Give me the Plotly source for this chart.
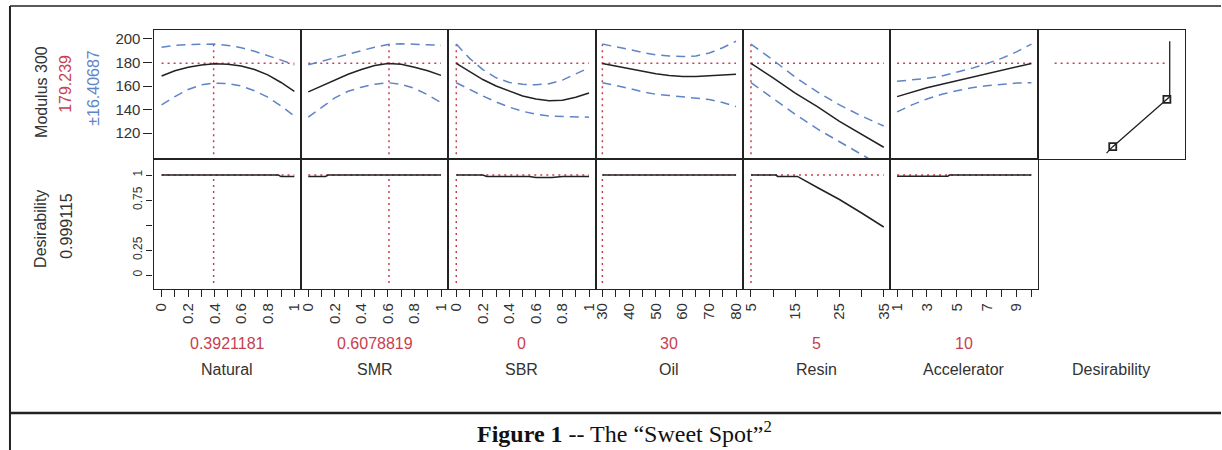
import plotly.graph_objects as go

W, H = 1222, 450

# ---------------- data ----------------
factor_names = ["Natural", "SMR", "SBR", "Oil", "Resin", "Accelerator", "Desirability"]
current_values = [0.3921181, 0.6078819, 0, 30, 5, 10]
current_labels = ["0.3921181", "0.6078819", "0", "30", "5", "10"]
predicted = 179.239
predicted_label = "179.239"
ci_half = 16.40687
ci_label = "±16.40687"
overall_desirability = 0.999115
overall_desirability_label = "0.999115"

natural_x = [0, 0.1, 0.2, 0.3, 0.4, 0.5, 0.6, 0.7, 0.8, 0.9, 1.0]
natural_mean = [168.5, 173, 176, 177.8, 178.9, 178.5, 177, 174, 169.5, 163, 155.5]
natural_upper = [193, 194.5, 195.3, 195.6, 195.6, 194.5, 192.5, 189.5, 186, 182, 178]
natural_lower = [144, 151, 157, 161, 162.5, 162, 160, 156, 150.5, 143, 134.5]

smr_x = [0, 0.1, 0.2, 0.3, 0.4, 0.5, 0.6, 0.7, 0.8, 0.9, 1.0]
smr_mean = [155, 160, 164.5, 170, 174, 177.5, 179.2, 178.5, 176, 173, 169]
smr_upper = [178, 181, 184, 187.5, 190.5, 193, 195.3, 195.8, 195.5, 195, 194.5]
smr_lower = [133.5, 142, 150, 155.5, 159, 161.5, 162.8, 161.5, 158, 152.5, 146]

sbr_x = [0, 0.1, 0.2, 0.3, 0.4, 0.5, 0.6, 0.7, 0.8, 0.9, 1.0]
sbr_mean = [179.2, 172, 165.5, 160, 155.5, 151.5, 149, 147.5, 148, 150.5, 154]
sbr_upper = [195.6, 183.5, 174, 167, 163, 161.5, 161, 162, 165, 170, 175.5]
sbr_lower = [162.8, 157, 151.5, 146.5, 142, 138.5, 136, 134.5, 134, 133.5, 133.5]

oil_x = [30, 35, 40, 45, 50, 55, 60, 65, 70, 75, 80]
oil_mean = [179.2, 177, 175, 172.5, 170.5, 169, 168, 168, 168.5, 169.3, 170]
oil_upper = [195.6, 193.5, 191, 188.5, 186.5, 185.5, 185, 185.5, 188, 192.5, 198]
oil_lower = [162.8, 160.5, 158, 155, 153, 152, 151, 150, 148.5, 146, 142.5]

resin_x = [5, 10, 15, 20, 25, 30, 35]
resin_mean = [179.2, 167, 154, 142.5, 130, 119, 108]
resin_upper = [195.6, 182, 167.5, 155, 144, 134.5, 126]
resin_lower = [162.8, 149.5, 136, 123.5, 112.5, 102, 91]

accel_x = [1, 2, 3, 4, 5, 6, 7, 8, 9, 10]
accel_mean = [151, 155, 158.5, 161.5, 164.5, 167.5, 170, 173, 176, 179.2]
accel_upper = [164, 165, 166.5, 168.5, 171.5, 175, 179, 183.5, 189, 195.6]
accel_lower = [138, 144, 149, 153, 156, 158.5, 160.3, 161.5, 162.5, 162.8]

# desirability traces (lower row)
natural_des_x = [0, 0.88, 0.9, 1.0]
natural_des = [0.999, 0.999, 0.984, 0.984]
smr_des_x = [0, 0.13, 0.15, 1.0]
smr_des = [0.985, 0.985, 0.999, 0.999]
sbr_des_x = [0, 0.2, 0.23, 0.55, 0.6, 0.72, 0.8, 1.0]
sbr_des = [0.999, 0.999, 0.986, 0.986, 0.975, 0.975, 0.986, 0.986]
oil_des_x = [30, 80]
oil_des = [0.999, 0.999]
resin_des_x = [5, 10.7, 11, 15.5, 20, 25, 30, 35]
resin_des = [0.999, 0.999, 0.986, 0.986, 0.875, 0.755, 0.62, 0.48]
accel_des_x = [1, 4.4, 4.5, 10]
accel_des = [0.987, 0.987, 0.999, 0.999]

# desirability function panel
desfun_d = [0.46, 0.515, 0.995, 1.02, 1.02]
desfun_y = [103, 108.5, 148.7, 151, 198]
desfun_marker_d = [0.515, 0.995]
desfun_marker_y = [108.5, 148.7]

# ticks: labelled ticks plus unlabelled minor-tick step
label_vals = [
    [0, 0.2, 0.4, 0.6, 0.8, 1.0],
    [0, 0.2, 0.4, 0.6, 0.8, 1.0],
    [0, 0.2, 0.4, 0.6, 0.8, 1.0],
    [30, 40, 50, 60, 70, 80],
    [5, 15, 25, 35],
    [1, 3, 5, 7, 9],
    [0, 0.25, 0.5, 0.75, 1],
]
label_text = [
    ["0", "0.2", "0.4", "0.6", "0.8", "1"],
    ["0", "0.2", "0.4", "0.6", "0.8", "1"],
    ["0", "0.2", "0.4", "0.6", "0.8", "1"],
    ["30", "40", "50", "60", "70", "80"],
    ["5", "15", "25", "35"],
    ["1", "3", "5", "7", "9"],
    ["0", "0.25", "0.5", "0.75", "1"],
]
minor_step = [0.1, 0.1, 0.1, 5, 5, 1, 0.25]
minor_start = [0, 0, 0, 30, 5, 1, 0]
x_ranges = [[-0.06, 1.05], [-0.055, 1.055], [-0.06, 1.05], [27.5, 82.6],
            [3.2, 36.5], [0.55, 10.42], [-0.15, 1.156]]
top_y_range = [98, 208]
top_y_ticks = [120, 140, 160, 180, 200]
bot_y_range = [-0.14, 1.16]
bot_y_ticks = [0, 0.25, 0.75, 1]
bot_y_text = ["0", "0.25", "0.75", "1"]
bot_y_minor = 0.25

# ---------------- styling ----------------
BLACK = "#222222"
RED = "#c8404f"
BLUE = "#5f84c8"
FONT = "Liberation Sans, Arial, sans-serif"

panel_left, panel_w = 152, 147.71
row_top, row_mid, row_bot = 29.5, 159, 289


def px(x):
    return x / W


def py(y):
    return 1 - y / H


fig = go.Figure()

curves = [
    (natural_x, natural_mean, natural_upper, natural_lower, natural_des_x, natural_des),
    (smr_x, smr_mean, smr_upper, smr_lower, smr_des_x, smr_des),
    (sbr_x, sbr_mean, sbr_upper, sbr_lower, sbr_des_x, sbr_des),
    (oil_x, oil_mean, oil_upper, oil_lower, oil_des_x, oil_des),
    (resin_x, resin_mean, resin_upper, resin_lower, resin_des_x, resin_des),
    (accel_x, accel_mean, accel_upper, accel_lower, accel_des_x, accel_des),
]

red_line = dict(color=RED, width=1.5, dash="2px,4px")
blue_line = dict(color=BLUE, width=1.5, dash="9px,6px")
blk_line = dict(color=BLACK, width=1.5)


def add(x, y, i, top, line, mode="lines", **kw):
    ax = i + 1 if top else i + 8
    fig.add_trace(go.Scatter(x=x, y=y, mode=mode, line=line, showlegend=False,
                             hoverinfo="skip", xaxis=f"x{ax}", yaxis=f"y{ax}", **kw))


for i, (fx, fm, fu, fl, dx, dy) in enumerate(curves):
    v = current_values[i]
    # top row
    add([fx[0], fx[-1]], [predicted, predicted], i, True, red_line)
    if i != 5:
        add([v, v], [102, predicted + ci_half], i, True, red_line)
        add([v, v], [-0.08, 1.0], i, False, red_line)
    add(fx, fu, i, True, blue_line)
    add(fx, fl, i, True, blue_line)
    add(fx, fm, i, True, blk_line)
    # bottom row
    add([fx[0], fx[-1]], [overall_desirability, overall_desirability], i, False, red_line)
    add(dx, dy, i, False, blk_line)

# desirability function panel
add([0, 1], [predicted, predicted], 6, True, red_line)
add(desfun_d, desfun_y, 6, True, dict(color=BLACK, width=1.3))
add(desfun_marker_d, desfun_marker_y, 6, True, dict(color=BLACK), mode="markers",
    marker=dict(symbol="square-open", size=7, color=BLACK, line=dict(width=1.8)))

# axes
layout = {}
for i in range(7):
    x0 = px(panel_left + i * panel_w)
    x1 = px(panel_left + (i + 1) * panel_w)
    common = dict(showline=True, mirror=True, linecolor=BLACK, linewidth=1.3,
                  showgrid=False, zeroline=False, fixedrange=True)
    # top row
    layout[f"xaxis{i+1}"] = dict(domain=[x0, x1], range=x_ranges[i], anchor=f"y{i+1}",
                                 showticklabels=False, ticks="", **common)
    layout[f"yaxis{i+1}"] = dict(domain=[py(row_mid), py(row_top)], range=top_y_range,
                                 anchor=f"x{i+1}", **common)
    # bottom row
    layout[f"xaxis{i+8}"] = dict(domain=[x0, x1], range=x_ranges[i], anchor=f"y{i+8}",
                                 tickvals=label_vals[i], ticktext=label_text[i],
                                 ticks="outside", ticklen=7, tickwidth=1.3, tickcolor=BLACK,
                                 minor=dict(tick0=minor_start[i], dtick=minor_step[i],
                                            ticks="outside", ticklen=7, tickwidth=1.3,
                                            tickcolor=BLACK, showgrid=False),
                                 tickangle=-90, tickfont=dict(family=FONT, size=15, color="#333"),
                                 **common)
    layout[f"yaxis{i+8}"] = dict(domain=[py(row_bot), py(row_mid)], range=bot_y_range,
                                 anchor=f"x{i+8}", **common)
    if i == 0:
        layout["yaxis1"].update(tickvals=top_y_ticks, ticks="outside", ticklen=9,
                                tickwidth=1.3, tickcolor=BLACK,
                                tickfont=dict(family=FONT, size=15, color="#333"))
        layout["yaxis8"].update(tickvals=bot_y_ticks, ticktext=bot_y_text, ticks="outside",
                                ticklen=6, tickwidth=1.3, tickcolor=BLACK, tickangle=-90,
                                minor=dict(tick0=0, dtick=bot_y_minor, ticks="outside",
                                           ticklen=6, tickwidth=1.3, tickcolor=BLACK,
                                           showgrid=False),
                                tickfont=dict(family=FONT, size=12, color="#333"))
    else:
        layout[f"yaxis{i+1}"].update(showticklabels=False, ticks="")
        layout[f"yaxis{i+8}"].update(showticklabels=False, ticks="")

fig.update_layout(**layout)

ann = []


def text(x, y, s, color=BLACK, size=16, angle=0, family=FONT):
    ann.append(dict(x=px(x), y=py(y), xref="paper", yref="paper", text=s, showarrow=False,
                    textangle=angle, xanchor="center", yanchor="middle",
                    font=dict(family=family, size=size, color=color)))


# y-axis titles
text(39, 92, "Modulus 300", "#333", 16, -90)
text(64, 84, predicted_label, RED, 16, -90)
text(91, 88, ci_label, BLUE, 16, -90)
text(39, 229, "Desirability", "#333", 16, -90)
text(64, 226, overall_desirability_label, "#333", 16, -90)

# x-axis titles
for i in range(7):
    cx = panel_left + (i + 0.5) * panel_w
    if i < 6:
        text(cx, 343, current_labels[i], RED, 16)
    text(cx, 369, factor_names[i], "#333", 16)

# caption
text(624, 432, "<b>Figure 1</b> -- The “Sweet Spot”<sup>2</sup>", "#111", 24, 0,
     "Liberation Serif, Times New Roman, serif")

shapes = [
    dict(type="line", xref="paper", yref="paper", x0=px(8), x1=1, y0=py(6), y1=py(6),
         line=dict(color=BLACK, width=1.3)),
    dict(type="line", xref="paper", yref="paper", x0=px(8), x1=px(8), y0=py(6), y1=0,
         line=dict(color=BLACK, width=2)),
    dict(type="line", xref="paper", yref="paper", x0=px(8), x1=1, y0=py(413), y1=py(413),
         line=dict(color=BLACK, width=2.5)),
]

fig.update_layout(width=W, height=H, margin=dict(l=0, r=0, t=0, b=0),
                  paper_bgcolor="white", plot_bgcolor="white",
                  annotations=ann, shapes=shapes, showlegend=False)

fig.write_html("out.html", config={"displayModeBar": False},
               post_script="document.body.style.margin='0';document.body.style.overflow='hidden';")
